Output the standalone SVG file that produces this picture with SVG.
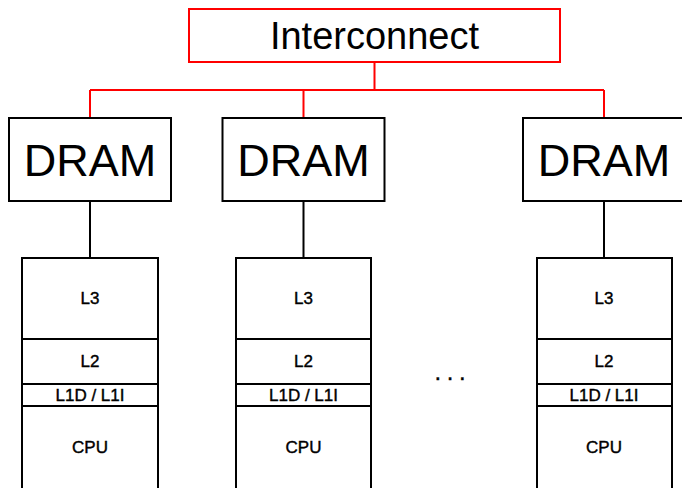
<svg xmlns="http://www.w3.org/2000/svg" width="682" height="488" viewBox="0 0 682 488">
<style>
.box{fill:#fff;stroke:#000;stroke-width:2}
.red{fill:#fff;stroke:#f00;stroke-width:2}
.wire{fill:none;stroke:#000;stroke-width:2}
.rwire{fill:none;stroke:#f00;stroke-width:2}
text{font-family:"Liberation Sans",Arial,sans-serif;fill:#000;text-anchor:middle}
.big{font-size:45px}
.ic{font-size:38px}
.sm{font-size:17px;stroke:#000;stroke-width:0.4}
</style>
<rect width="682" height="488" fill="#fff"/>
<g id="connectors">
<path class="rwire" d="M374.5 62V90M90 90H604M90 90V118M303.5 90V118M604 90V118"/>
<path class="wire" d="M90 201V258M303.5 201V258M604 201V258"/>
</g>
<g id="interconnect">
<rect class="red" x="189" y="9" width="371" height="53"/>
<text class="ic" x="374.5" y="49">Interconnect</text>
</g>
<g id="dram1">
<rect class="box" x="9" y="118" width="162" height="83"/>
<text class="big" x="90" y="176">DRAM</text>
</g>
<g id="dram2">
<rect class="box" x="222.5" y="118" width="162" height="83"/>
<text class="big" x="303.5" y="176">DRAM</text>
</g>
<g id="dram3">
<rect class="box" x="523" y="118" width="162" height="83"/>
<text class="big" x="604" y="176">DRAM</text>
</g>
<g id="stack1">
<rect class="box" x="22" y="258" width="136" height="240"/>
<path class="wire" d="M22 339H158M22 384H158M22 406H158"/>
<text class="sm" x="90" y="304">L3</text>
<text class="sm" x="90" y="367">L2</text>
<text class="sm" x="90" y="401">L1D / L1I</text>
<text class="sm" x="90" y="453">CPU</text>
</g>
<g id="stack2">
<rect class="box" x="236" y="258" width="135" height="240"/>
<path class="wire" d="M236 339H371M236 384H371M236 406H371"/>
<text class="sm" x="303.5" y="304">L3</text>
<text class="sm" x="303.5" y="367">L2</text>
<text class="sm" x="303.5" y="401">L1D / L1I</text>
<text class="sm" x="303.5" y="453">CPU</text>
</g>
<g id="stack3">
<rect class="box" x="537" y="258" width="135" height="240"/>
<path class="wire" d="M537 339H672M537 384H672M537 406H672"/>
<text class="sm" x="604" y="304">L3</text>
<text class="sm" x="604" y="367">L2</text>
<text class="sm" x="604" y="401">L1D / L1I</text>
<text class="sm" x="604" y="453">CPU</text>
</g>
<g id="ellipsis">
<text x="450" y="380" style="font-size:22px;stroke:#000;stroke-width:0.5">. . .</text>
</g>
</svg>
